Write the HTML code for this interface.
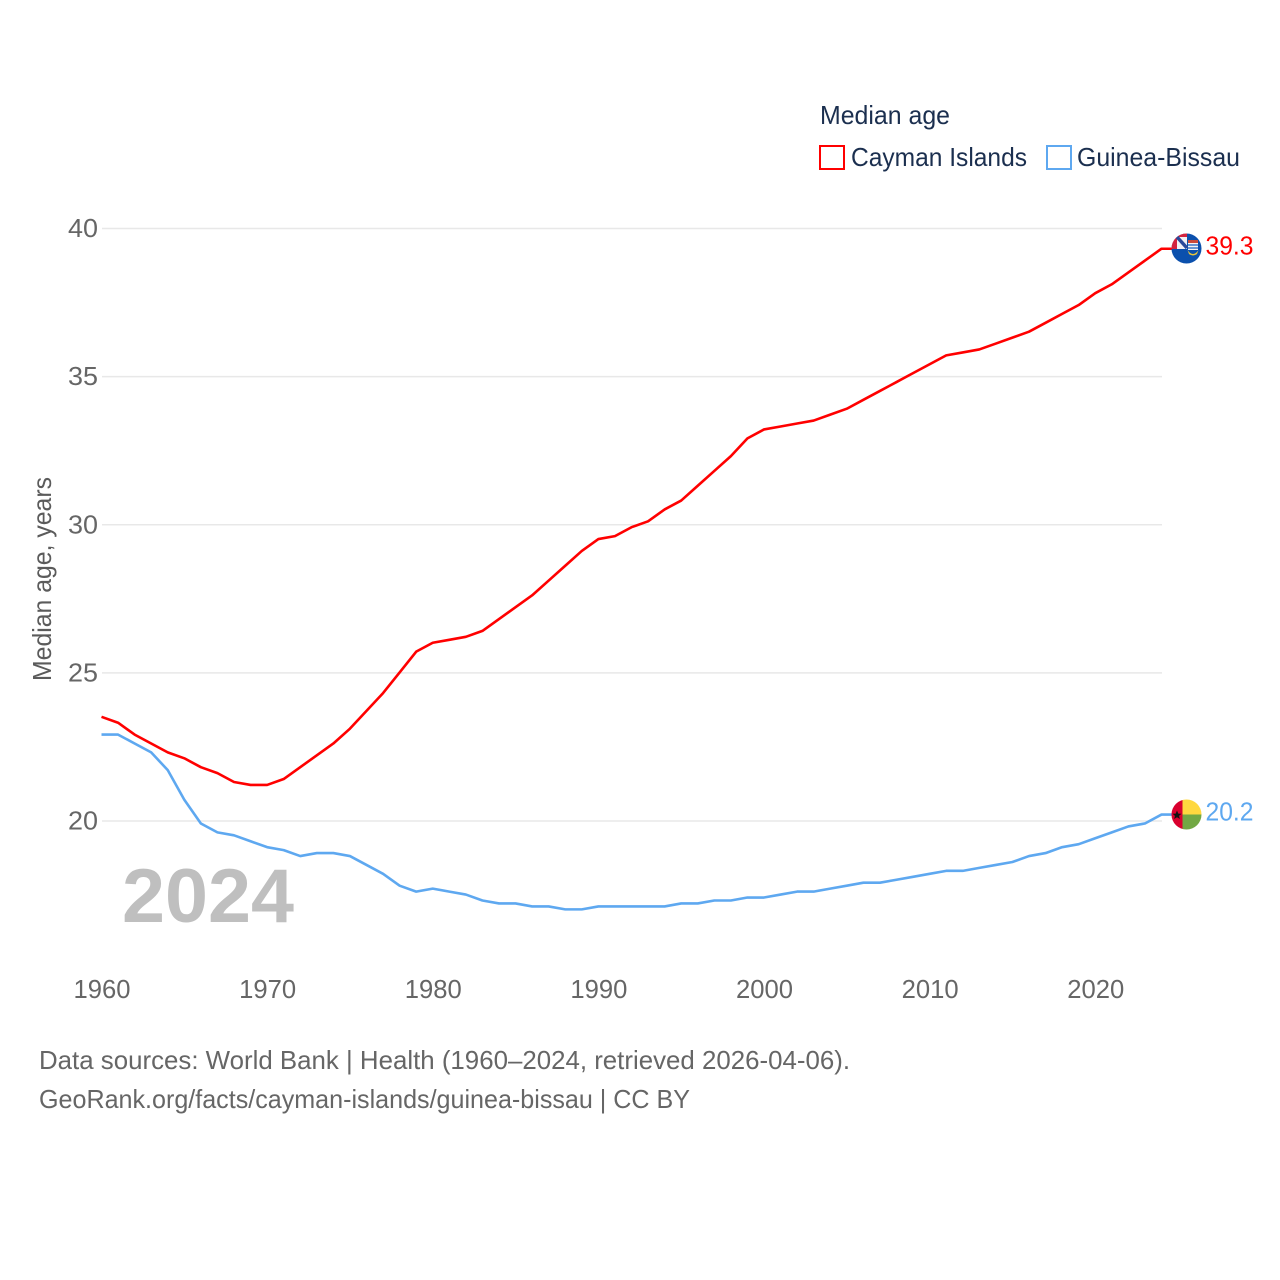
<!DOCTYPE html>
<html lang="en">
<head>
<meta charset="utf-8">
<title>Median age: Cayman Islands and Guinea-Bissau</title>
<style>
html,body{margin:0;padding:0;background:#fff;}
svg{display:block;font-family:"Liberation Sans",sans-serif;}
</style>
</head>
<body>
<svg id="chart" width="1280" height="1280" viewBox="0 0 1280 1280" xmlns="http://www.w3.org/2000/svg">
  <rect x="0" y="0" width="1280" height="1280" fill="#ffffff"/>
  <g id="grid"></g>
  <g id="yticks"></g>
  <g id="xticks"></g>
  <text transform="translate(51,681) rotate(-90)" font-size="26" fill="#5b5b5b" textLength="204" lengthAdjust="spacingAndGlyphs">Median age, years</text>
  <text x="122" y="922" font-size="76" font-weight="700" fill="#bfbfbf" textLength="172" lengthAdjust="spacingAndGlyphs">2024</text>
  <g id="series"></g>

  <g>
    <text x="820" y="124" font-size="26" fill="#1b2f4f" textLength="130" lengthAdjust="spacingAndGlyphs">Median age</text>
    <rect x="820" y="146" width="24" height="23" fill="#fff" stroke="#ff0000" stroke-width="2"/>
    <text x="851" y="166" font-size="26" fill="#1b2f4f" textLength="176" lengthAdjust="spacingAndGlyphs">Cayman Islands</text>
    <rect x="1047" y="146" width="24" height="23" fill="#fff" stroke="#5ea8f0" stroke-width="2"/>
    <text x="1077" y="166" font-size="26" fill="#1b2f4f" textLength="163" lengthAdjust="spacingAndGlyphs">Guinea-Bissau</text>
  </g>

  <defs>
    <clipPath id="flagClipA"><circle cx="1186.5" cy="248.5" r="15"/></clipPath>
    <clipPath id="flagClipB"><circle cx="1186.5" cy="814.5" r="15"/></clipPath>
  </defs>

  <g clip-path="url(#flagClipA)">
    <rect x="1171" y="233" width="31" height="31" fill="#0b50ad"/>
    <rect x="1171" y="233" width="16" height="16" fill="#f2f0f4"/>
    <rect x="1171" y="233" width="16" height="4" fill="#d3233f"/>
    <rect x="1171" y="233" width="6" height="16" fill="#d3233f"/>
    <path d="M1177 237 L1187 248" stroke="#2a4a9a" stroke-width="3.5" fill="none"/>
    <rect x="1188" y="240" width="10" height="10" fill="#f4f4f4"/>
    <rect x="1188" y="240" width="10" height="3" fill="#c94a3a"/>
    <path d="M1188 245 h10 M1188 248 h10" stroke="#3a78c8" stroke-width="1.4"/>
    <path d="M1187.5 250 Q1193 258 1198.5 250 L1197 254 Q1193 257 1189 254 Z" fill="#e8c53a"/>
  </g>
  <g clip-path="url(#flagClipB)">
    <rect x="1171" y="799" width="12" height="31" fill="#d9002e"/>
    <rect x="1182.5" y="799" width="20" height="15.5" fill="#ffd83f"/>
    <rect x="1182.5" y="814.5" width="20" height="16" fill="#72a844"/>
    <polygon points="1177,810.5 1178.3,813.6 1181.5,813.8 1179,815.9 1179.9,819 1177,817.3 1174.1,819 1175,815.9 1172.5,813.8 1175.7,813.6" fill="#111"/>
  </g>

  <text x="1205.5" y="254.5" font-size="26" fill="#ff0000" textLength="48" lengthAdjust="spacingAndGlyphs">39.3</text>
  <text x="1205.5" y="820.5" font-size="26" fill="#5ea8f0" textLength="48" lengthAdjust="spacingAndGlyphs">20.2</text>

  <text x="39" y="1069" font-size="26" fill="#666666" textLength="811" lengthAdjust="spacingAndGlyphs">Data sources: World Bank | Health (1960–2024, retrieved 2026-04-06).</text>
  <a><text x="39" y="1108" font-size="26" fill="#666666" textLength="651" lengthAdjust="spacingAndGlyphs">GeoRank.org/facts/cayman-islands/guinea-bissau | CC BY</text></a>
</svg>

<script>
const startYear = 1960;
const yTicks = [20, 25, 30, 35, 40];
const yTickLabels = ["20", "25", "30", "35", "40"];
const xTicks = [1960, 1970, 1980, 1990, 2000, 2010, 2020];
const xTickLabels = ["1960", "1970", "1980", "1990", "2000", "2010", "2020"];
const caymanIslands = [
  23.5,23.3,22.9,22.6,22.3,22.1,21.8,21.6,21.3,21.2,
  21.2,21.4,21.8,22.2,22.6,23.1,23.7,24.3,25.0,25.7,
  26.0,26.1,26.2,26.4,26.8,27.2,27.6,28.1,28.6,29.1,
  29.5,29.6,29.9,30.1,30.5,30.8,31.3,31.8,32.3,32.9,
  33.2,33.3,33.4,33.5,33.7,33.9,34.2,34.5,34.8,35.1,
  35.4,35.7,35.8,35.9,36.1,36.3,36.5,36.8,37.1,37.4,
  37.8,38.1,38.5,38.9,39.3
];
const guineaBissau = [
  22.9,22.9,22.6,22.3,21.7,20.7,19.9,19.6,19.5,19.3,
  19.1,19.0,18.8,18.9,18.9,18.8,18.5,18.2,17.8,17.6,
  17.7,17.6,17.5,17.3,17.2,17.2,17.1,17.1,17.0,17.0,
  17.1,17.1,17.1,17.1,17.1,17.2,17.2,17.3,17.3,17.4,
  17.4,17.5,17.6,17.6,17.7,17.8,17.9,17.9,18.0,18.1,
  18.2,18.3,18.3,18.4,18.5,18.6,18.8,18.9,19.1,19.2,
  19.4,19.6,19.8,19.9,20.2
];

const NS = "http://www.w3.org/2000/svg";
function xScale(year) { return 101.5 + (year - 1960) * (1161.5 - 101.5) / 64; }
function yScale(v) { return 820.5 - (v - 20) * (820.5 - 228) / 20; }

const gridGroup = document.getElementById("grid");
const yGroup = document.getElementById("yticks");
yTicks.forEach(function (t, i) {
  const line = document.createElementNS(NS, "line");
  
  
  line.setAttribute("x1", 102);
  line.setAttribute("x2", 1162);
  line.setAttribute("y1", yScale(t) + 0.5);
  line.setAttribute("y2", yScale(t) + 0.5);
  line.setAttribute("stroke", "#e8e8e8");
  line.setAttribute("stroke-width", "1.5");
  gridGroup.appendChild(line);

  const label = document.createElementNS(NS, "text");
  
  
  label.setAttribute("x", 68);
  label.setAttribute("y", yScale(t) + 9);
  label.setAttribute("font-size", "26");
  label.setAttribute("fill", "#666666");
  label.setAttribute("textLength", "30");
  label.setAttribute("lengthAdjust", "spacingAndGlyphs");
  label.textContent = yTickLabels[i];
  yGroup.appendChild(label);
});

const xGroup = document.getElementById("xticks");
xTicks.forEach(function (t, i) {
  const label = document.createElementNS(NS, "text");
  
  
  label.setAttribute("x", xScale(t) - 28);
  label.setAttribute("y", 998);
  label.setAttribute("font-size", "26");
  label.setAttribute("fill", "#666666");
  label.setAttribute("textLength", "57");
  label.setAttribute("lengthAdjust", "spacingAndGlyphs");
  label.textContent = xTickLabels[i];
  xGroup.appendChild(label);
});

function pathFor(values) {
  let d = "";
  values.forEach(function (v, i) {
    d += (i === 0 ? "M" : "L") + xScale(startYear + i).toFixed(2) + " " + yScale(v).toFixed(2) + " ";
  });
  const last = values[values.length - 1];
  d += "L1175 " + yScale(last).toFixed(2);
  return d;
}

const seriesGroup = document.getElementById("series");

const blueLine = document.createElementNS(NS, "path");


blueLine.setAttribute("d", pathFor(guineaBissau));
blueLine.setAttribute("fill", "none");
blueLine.setAttribute("stroke", "#5ea8f0");
blueLine.setAttribute("stroke-width", "2.6");
blueLine.setAttribute("stroke-linejoin", "round");
seriesGroup.appendChild(blueLine);

const redLine = document.createElementNS(NS, "path");


redLine.setAttribute("d", pathFor(caymanIslands));
redLine.setAttribute("fill", "none");
redLine.setAttribute("stroke", "#ff0000");
redLine.setAttribute("stroke-width", "2.6");
redLine.setAttribute("stroke-linejoin", "round");
seriesGroup.appendChild(redLine);
</script>
</body>
</html>
